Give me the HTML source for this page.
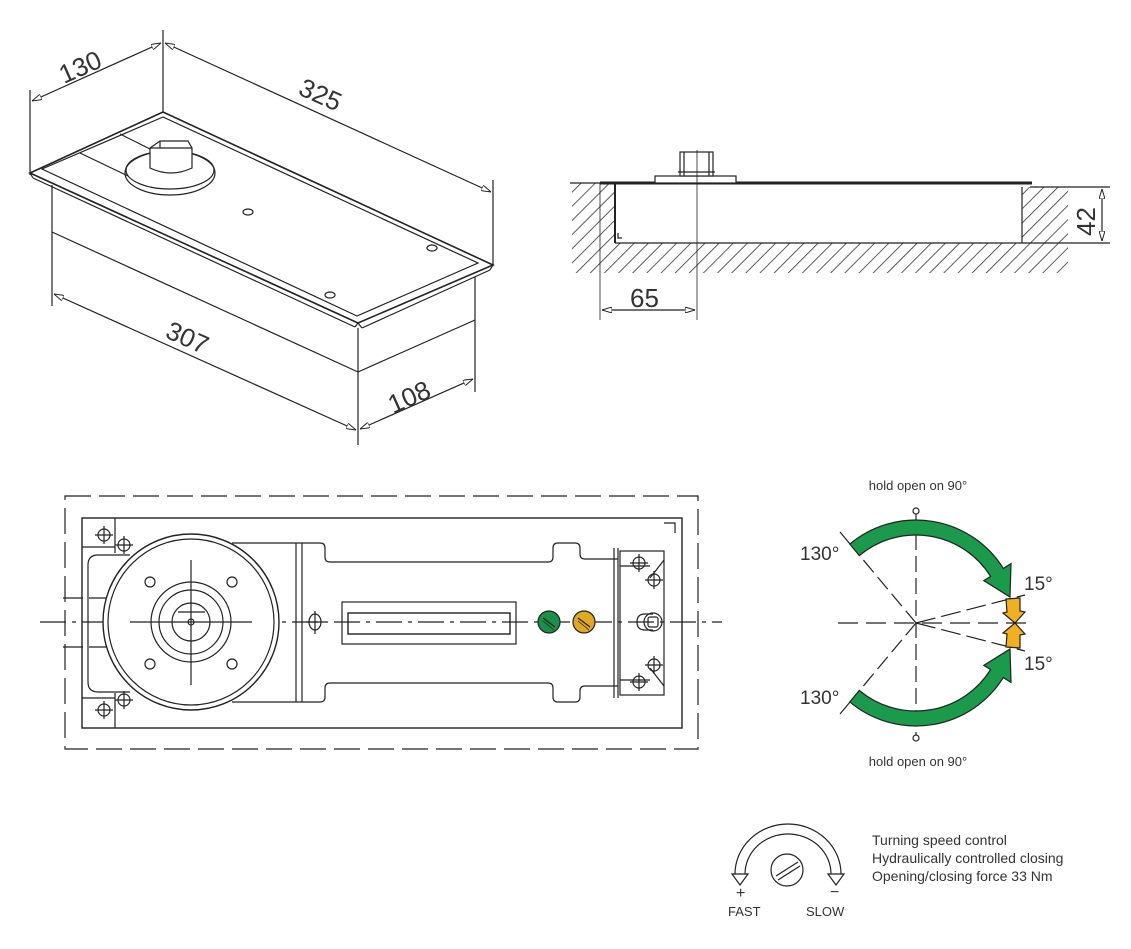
<!DOCTYPE html>
<html><head><meta charset="utf-8"><style>
html,body{margin:0;padding:0;background:#fff;}
svg{display:block;}
text{font-family:"Liberation Sans",Arial,sans-serif;fill:#333;}
</style></head><body>
<svg width="1131" height="949" viewBox="0 0 1131 949" xmlns="http://www.w3.org/2000/svg">
<defs>
<pattern id="h" patternUnits="userSpaceOnUse" width="10" height="10" patternTransform="rotate(45)">
<line x1="0" y1="0" x2="0" y2="10" stroke="#333" stroke-width="1.6"/>
</pattern>
<marker id="a" viewBox="0 0 10 6" refX="10" refY="3" markerWidth="10" markerHeight="6" markerUnits="userSpaceOnUse" orient="auto-start-reverse">
<path d="M0,0 L10,3 L0,6 Z" fill="#fff" stroke="#222" stroke-width="1"/>
</marker>
</defs>

<g stroke="#222" stroke-width="1.2" fill="none">
<!-- ISO VIEW -->
<line x1="163" y1="30" x2="163" y2="112"/>
<line x1="30" y1="90" x2="30" y2="175"/>
<line x1="493" y1="180" x2="493" y2="266"/>
<line x1="32" y1="101" x2="161" y2="43" marker-start="url(#a)" marker-end="url(#a)"/>
<line x1="165" y1="43" x2="491" y2="192" marker-start="url(#a)" marker-end="url(#a)"/>
<path d="M30,173 L163,112 L493,265 L358,323 Z" stroke-width="1.6"/>
<path d="M42,169 L163,117 L478,263 L357,316 Z"/>
<line x1="30" y1="173" x2="33" y2="178"/>
<line x1="33" y1="178" x2="355" y2="327"/>
<line x1="358" y1="323" x2="355" y2="327"/>
<line x1="358" y1="323" x2="362" y2="328"/>
<line x1="362" y1="328" x2="490" y2="270"/>
<line x1="493" y1="265" x2="490" y2="270"/>
<line x1="80" y1="153" x2="128" y2="176"/>
<line x1="120" y1="134" x2="150" y2="149"/>
<ellipse cx="170" cy="173" rx="45" ry="22"/>
<ellipse cx="170" cy="170" rx="44" ry="19"/>
<path d="M150,148 L160,141 L188,141 L192,148 L192,168 Q171,178 150,168 Z" fill="#fff"/>
<line x1="150" y1="148" x2="192" y2="148"/>
<line x1="160" y1="141" x2="160" y2="148"/>
<ellipse cx="248" cy="212" rx="5" ry="3"/>
<ellipse cx="432" cy="248" rx="5" ry="3"/>
<ellipse cx="330" cy="295" rx="5" ry="3"/>
<line x1="52" y1="185" x2="52" y2="306"/>
<line x1="52" y1="232" x2="358" y2="372"/>
<line x1="358" y1="328" x2="358" y2="445"/>
<line x1="475" y1="277" x2="475" y2="392"/>
<line x1="358" y1="372" x2="475" y2="320"/>
<line x1="54" y1="294" x2="356" y2="430" marker-start="url(#a)" marker-end="url(#a)"/>
<line x1="360" y1="429" x2="473" y2="379" marker-start="url(#a)" marker-end="url(#a)"/>

<!-- SIDE VIEW -->
<rect x="572" y="183" width="43" height="90" fill="url(#h)" stroke="none"/>
<rect x="615" y="243" width="407" height="30" fill="url(#h)" stroke="none"/>
<rect x="1022" y="187" width="46" height="86" fill="url(#h)" stroke="none"/>
<line x1="570" y1="183" x2="600" y2="183"/>
<line x1="600" y1="183" x2="1032" y2="183" stroke-width="3"/>
<line x1="1030" y1="187" x2="1110" y2="187"/>
<line x1="615" y1="243" x2="1110" y2="243"/>
<line x1="615" y1="183" x2="615" y2="243" stroke-width="2"/>
<line x1="1022" y1="187" x2="1022" y2="243"/>
<path d="M618,233 V238 H622"/>
<rect x="655" y="176" width="81" height="7" fill="#fff"/>
<rect x="680" y="152" width="33" height="24" fill="#fff"/>
<line x1="684" y1="152" x2="684" y2="176"/>
<line x1="709" y1="152" x2="709" y2="176"/>
<line x1="678" y1="172" x2="715" y2="172"/>
<line x1="697" y1="150" x2="697" y2="320" stroke-width="0.8"/>
<line x1="600" y1="183" x2="600" y2="320" stroke-width="0.8"/>
<line x1="602" y1="310" x2="695" y2="310" marker-start="url(#a)" marker-end="url(#a)"/>
<line x1="1102" y1="189" x2="1102" y2="241" marker-start="url(#a)" marker-end="url(#a)"/>

<!-- PLAN VIEW -->
<rect x="65" y="496" width="633" height="253" stroke-dasharray="26,8"/>
<rect x="82" y="518" width="600" height="210" stroke-width="1.4"/>
<path d="M664,523 H675 V533"/>
<line x1="40" y1="622" x2="722" y2="622" stroke-dasharray="26,6,4,6"/>
<line x1="63" y1="598" x2="150" y2="598" stroke-dasharray="20,6"/>
<line x1="63" y1="647" x2="150" y2="647" stroke-dasharray="20,6"/>
<line x1="115" y1="518" x2="115" y2="553"/>
<line x1="82" y1="547" x2="115" y2="547"/>
<line x1="115" y1="693" x2="115" y2="728"/>
<line x1="82" y1="698" x2="115" y2="698"/>
<path d="M130,555 H98 Q88,555 88,565 V682 Q88,692 98,692 H130"/>
<circle cx="191" cy="622" r="88" fill="#fff" stroke-width="1.4"/>
<circle cx="191" cy="622" r="83"/>
<circle cx="191" cy="622" r="40"/>
<circle cx="191" cy="622" r="32"/>
<circle cx="191" cy="622" r="19"/>
<circle cx="191" cy="622" r="3"/>
<line x1="191" y1="560" x2="191" y2="685"/>
<line x1="130" y1="622" x2="252" y2="622"/>
<line x1="178" y1="612" x2="205" y2="612"/>
<circle cx="150" cy="582" r="5"/><circle cx="232" cy="582" r="5"/>
<circle cx="150" cy="664" r="5"/><circle cx="232" cy="664" r="5"/>
<path d="M232,543 H320 Q325,543 325,548 V557 Q325,562 330,562 H548 Q553,562 553,557 V548 Q553,543 558,543 H575 Q580,543 580,548 V554 Q580,559 585,559 H618"/>
<path d="M232,702 H320 Q325,702 325,697 V688 Q325,683 330,683 H548 Q553,683 553,688 V697 Q553,702 558,702 H575 Q580,702 580,697 V691 Q580,686 585,686 H618"/>
<line x1="296" y1="543" x2="296" y2="702"/>
<line x1="302" y1="543" x2="302" y2="702"/>
<line x1="614" y1="548" x2="614" y2="698"/>
<line x1="618" y1="548" x2="618" y2="698"/>
<rect x="342" y="602" width="174" height="42"/>
<rect x="348" y="613" width="162" height="21" stroke-width="1.4"/>
<ellipse cx="315" cy="622" rx="6" ry="8"/>
<line x1="315" y1="611" x2="315" y2="634"/><line x1="306" y1="622" x2="324" y2="622"/>
<circle cx="549" cy="622" r="11" fill="#1a8f48"/>
<line x1="543" y1="618" x2="555" y2="627"/><line x1="543" y1="621" x2="554" y2="630" stroke-width="0.8"/>
<circle cx="584" cy="622" r="11" fill="#e0a820"/>
<line x1="578" y1="618" x2="590" y2="627"/><line x1="578" y1="621" x2="589" y2="630" stroke-width="0.8"/>
<rect x="620" y="551" width="44" height="144"/>
<line x1="620" y1="566" x2="650" y2="566"/>
<line x1="620" y1="680" x2="650" y2="680"/>
<line x1="664" y1="560" x2="650" y2="578"/>
<line x1="664" y1="686" x2="650" y2="668"/>
<path d="M653,614 H645 Q637,614 637,622 Q637,630 645,630 H653"/>
<circle cx="653" cy="622" r="9"/><rect x="648" y="617" width="10" height="10" rx="2"/>
<circle cx="104" cy="535" r="6"/><line x1="104" y1="526" x2="104" y2="544"/><line x1="95" y1="535" x2="113" y2="535"/>
<circle cx="124" cy="545" r="6"/><line x1="124" y1="536" x2="124" y2="554"/><line x1="115" y1="545" x2="133" y2="545"/>
<circle cx="104" cy="710" r="6"/><line x1="104" y1="701" x2="104" y2="719"/><line x1="95" y1="710" x2="113" y2="710"/>
<circle cx="124" cy="700" r="6"/><line x1="124" y1="691" x2="124" y2="709"/><line x1="115" y1="700" x2="133" y2="700"/>
<circle cx="639" cy="563" r="6"/><line x1="639" y1="554" x2="639" y2="572"/><line x1="630" y1="563" x2="648" y2="563"/>
<circle cx="654" cy="580" r="6"/><line x1="654" y1="571" x2="654" y2="589"/><line x1="645" y1="580" x2="663" y2="580"/>
<circle cx="654" cy="665" r="6"/><line x1="654" y1="656" x2="654" y2="674"/><line x1="645" y1="665" x2="663" y2="665"/>
<circle cx="639" cy="682" r="6"/><line x1="639" y1="673" x2="639" y2="691"/><line x1="630" y1="682" x2="648" y2="682"/>

<!-- DOOR SWING -->
<line x1="916" y1="512" x2="916" y2="736" stroke-dasharray="16,6"/>
<circle cx="916" cy="511" r="3" fill="#fff"/>
<circle cx="916" cy="738" r="3" fill="#fff"/>
<line x1="838" y1="623" x2="1030" y2="623" stroke-dasharray="20,8"/>
<line x1="916" y1="623" x2="850" y2="544" stroke-dasharray="16,6"/>
<line x1="916" y1="623" x2="850" y2="702" stroke-dasharray="16,6"/>
<line x1="850" y1="544" x2="840" y2="532"/>
<line x1="850" y1="702" x2="840" y2="714"/>
<line x1="916" y1="623" x2="1025" y2="595" stroke-dasharray="20,6"/>
<line x1="916" y1="623" x2="1025" y2="651" stroke-dasharray="20,6"/>
<path d="M849.8,544.1 A103,103 0 0 1 1003.3,568.4 L1011,563.6 L1010,597 L983.8,580.6 L990.6,576.4 A88,88 0 0 0 859.4,555.6 Z" fill="#1a9a4a"/>
<path d="M849.8,701.9 A103,103 0 0 0 1003.3,677.6 L1011,682.4 L1010,649 L983.8,665.4 L990.6,669.6 A88,88 0 0 1 859.4,690.4 Z" fill="#1a9a4a"/>
<path d="M1006,599 L1020,598 L1020,611 L1025,612 L1015,623 L1003,613 L1007,612 Z" fill="#f0b020"/>
<path d="M1006,647 L1020,648 L1020,635 L1025,634 L1015,623 L1003,633 L1007,634 Z" fill="#f0b020"/>

<!-- SPEED CONTROL -->
<circle cx="787" cy="870" r="16"/>
<line x1="776" y1="876" x2="798" y2="862"/>
<line x1="778" y1="880" x2="800" y2="866"/>
<path d="M735,874 A53,50 0 0 1 841,874"/>
<path d="M745,874 A43,40 0 0 1 831,874"/>
<path d="M732,874 L748,874 L740,885 Z" fill="#fff"/>
<path d="M828,874 L844,874 L836,885 Z" fill="#fff"/>
</g>

<g font-size="26" fill="#333">
<text transform="translate(64,84) rotate(-24)">130</text>
<text transform="translate(297,94) rotate(24)">325</text>
<text transform="translate(164,337) rotate(24)">307</text>
<text transform="translate(393,414) rotate(-24)">108</text>
<text x="630" y="307">65</text>
<text transform="translate(1095,236) rotate(-90)">42</text>
</g>
<g font-size="19" fill="#444">
<text x="800" y="560">130°</text>
<text x="800" y="704">130°</text>
<text x="1024" y="590">15°</text>
<text x="1024" y="670">15°</text>
</g>
<g font-size="13" fill="#333" text-anchor="middle">
<text x="918" y="490">hold open on 90°</text>
<text x="918" y="766">hold open on 90°</text>
</g>
<g font-size="13" fill="#333">
<text x="736" y="898" font-size="16">+</text>
<text x="830" y="897" font-size="16">−</text>
<text x="728" y="916">FAST</text>
<text x="806" y="916">SLOW</text>
<text x="872" y="845" font-size="14">Turning speed control</text>
<text x="872" y="863" font-size="14">Hydraulically controlled closing</text>
<text x="872" y="881" font-size="14">Opening/closing force 33 Nm</text>
</g>
</svg>
</body></html>
